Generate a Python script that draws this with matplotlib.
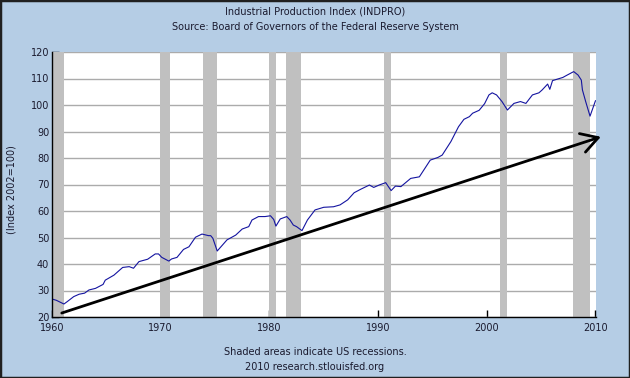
import matplotlib
matplotlib.use("Agg")
import matplotlib.pyplot as plt
from matplotlib.patches import Rectangle

# ---- data ----
years = [1960.0, 1960.4, 1960.8, 1961.1, 1961.4, 1962.0, 1962.5, 1963.0, 1963.4, 1964.0,
         1964.7, 1964.9, 1965.7, 1966.5, 1967.1, 1967.5, 1968.0, 1968.8, 1969.5, 1969.8,
         1970.1, 1970.75, 1971.0, 1971.5, 1972.1, 1972.6, 1973.2, 1973.8, 1974.4, 1974.6,
         1974.8, 1975.2, 1976.1, 1976.9, 1977.5, 1978.1, 1978.4, 1979.0, 1979.6, 1980.1,
         1980.4, 1980.6, 1981.0, 1981.6, 1981.9, 1982.2, 1982.5, 1983.0, 1983.5, 1984.2,
         1985.0, 1985.9, 1986.5, 1987.2, 1987.8, 1988.4, 1989.2, 1989.6, 1990.1, 1990.7,
         1991.2, 1991.6, 1992.1, 1993.0, 1993.8, 1994.8, 1995.5, 1995.9, 1996.7, 1997.4,
         1997.9, 1998.4, 1998.7, 1999.3, 1999.8, 2000.2, 2000.5, 2000.9, 2001.4, 2001.9,
         2002.5, 2003.1, 2003.6, 2004.2, 2004.8, 2005.1, 2005.6, 2005.8, 2006.05, 2007.0,
         2007.4, 2008.0, 2008.4, 2008.7, 2008.8, 2009.1, 2009.5, 2009.7, 2010.0]
indpro = [26.8, 26.3, 25.5, 24.9, 25.8, 27.7, 28.6, 29.0, 30.2, 30.8,
          32.3, 33.9, 35.8, 38.7, 39.0, 38.4, 40.9, 41.8, 43.8, 43.8,
          42.5, 41.1, 41.9, 42.5, 45.5, 46.5, 50.1, 51.3, 50.7, 50.7,
          49.7, 44.9, 49.1, 50.9, 53.2, 54.1, 56.6, 57.9, 57.9, 58.2,
          56.8, 54.3, 57.0, 57.9, 56.6, 54.7, 54.1, 52.6, 56.6, 60.4,
          61.4, 61.6, 62.3, 64.2, 66.9, 68.2, 69.8, 68.9, 69.8, 70.7,
          67.7, 69.4, 69.2, 72.3, 72.9, 79.2, 80.2, 81.1, 86.2, 91.8,
          94.6, 95.6, 96.9, 98.0, 100.5, 103.8, 104.6, 103.8, 101.3, 98.1,
          100.6, 101.3, 100.6, 103.8, 104.6, 105.7, 107.9, 105.9, 109.2, 110.4,
          111.3, 112.6, 111.3, 109.4, 105.7, 101.3, 95.8, 98.1, 101.6]

recessions = [(1960.05, 1961.1), (1969.9, 1970.9), (1973.9, 1975.2), (1980.0, 1980.6),
              (1981.5, 1982.9), (1990.5, 1991.2), (2001.2, 2001.9), (2007.9, 2009.5)]

arrow_start = (1960.9, 21.5)
arrow_end = (2010.5, 88.0)

x_ticks = [1960, 1970, 1980, 1990, 2000, 2010]
y_ticks = [20, 30, 40, 50, 60, 70, 80, 90, 100, 110, 120]

title1 = "Industrial Production Index (INDPRO)"
title2 = "Source: Board of Governors of the Federal Reserve System"
ylabel = "(Index 2002=100)"
foot1 = "Shaded areas indicate US recessions."
foot2 = "2010 research.stlouisfed.org"

# ---- figure ----
bg = "#B5CDE5"
txt = "#1A1A2E"
plt.rcParams['font.family'] = ['DejaVu Sans']
fig = plt.figure(figsize=(6.3, 3.78), dpi=100, facecolor=bg)
ax = fig.add_axes([52/630, 1 - 317/378, 544/630, 265/378])
ax.set_facecolor("white")

for s, e in recessions:
    ax.axvspan(s, e, color="#C0C0C0", lw=0, zorder=1)

ax.set_xlim(1960, 2010.05)
ax.set_ylim(20, 120)
ax.set_yticks(y_ticks)
ax.set_xticks(x_ticks)
ax.grid(axis="y", color="#ABABAB", lw=1.0, zorder=0)
ax.set_axisbelow(True)
for sp in ["top", "right"]:
    ax.spines[sp].set_visible(False)
for sp in ["left", "bottom"]:
    ax.spines[sp].set_color("black")
    ax.spines[sp].set_linewidth(1.0)
    ax.spines[sp].set_zorder(5)
ax.tick_params(axis="both", direction="in", length=5, width=1, colors="black",
               labelsize=7, labelcolor=txt)
ax.tick_params(axis="y", pad=2)
ax.tick_params(axis="x", pad=4)

ax.plot(years, indpro, color="#1414A0", lw=0.8, zorder=3)

ax.annotate("", xy=arrow_end, xytext=arrow_start,
            arrowprops=dict(arrowstyle="->,head_length=1.2,head_width=0.7",
                            color="black", lw=2, mutation_scale=10,
                            shrinkA=0, shrinkB=0),
            annotation_clip=False, zorder=4)

ax.set_ylabel(ylabel, fontsize=7, color=txt, labelpad=6)
ax.yaxis.set_label_coords(-0.065, 0.48)

fig.text(0.5, 1 - 12/378, title1, ha="center", va="center", fontsize=7, color=txt)
fig.text(0.5, 1 - 27/378, title2, ha="center", va="center", fontsize=7, color=txt)
fig.text(0.5, 1 - 352/378, foot1, ha="center", va="center", fontsize=7, color=txt)
fig.text(0.5, 1 - 367/378, foot2, ha="center", va="center", fontsize=7, color=txt)

fig.patches.append(Rectangle((0, 0), 1, 1, transform=fig.transFigure, fill=False,
                             edgecolor="#202020", lw=2.5, zorder=10))

fig.savefig("out.png", dpi=100, facecolor=bg)
